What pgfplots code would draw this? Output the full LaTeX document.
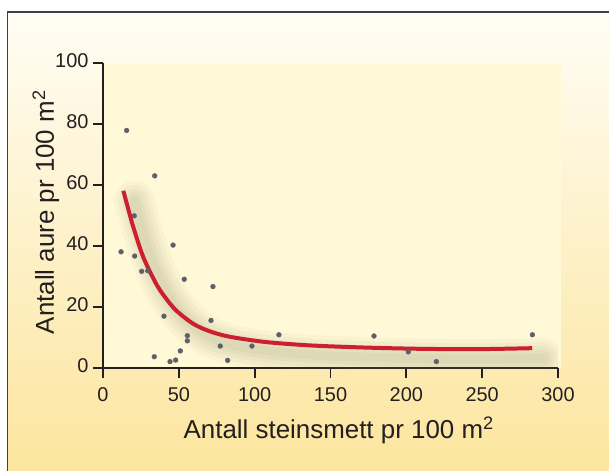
\documentclass[border=0pt]{standalone}
\usepackage{pgfplots}
\pgfplotsset{compat=1.18}
\usepackage{pgfplotstable}
\usepackage{fontspec}
\setmainfont{Liberation Sans}
\definecolor{framec}{RGB}{65,65,65}
\definecolor{bgtop}{RGB}{255,253,244}
\definecolor{bgmid}{RGB}{254,243,202}
\definecolor{bgbot}{RGB}{252,229,158}
\definecolor{innerc}{RGB}{255,249,216}
\definecolor{axisc}{RGB}{35,31,32}
\definecolor{dotc}{RGB}{95,95,105}
\definecolor{curvec}{RGB}{204,32,48}
\definecolor{shadowc}{RGB}{140,138,98}

\pgfplotstableread{
x y
15.6 77.9
34.1 63.0
20.6 49.9
11.9 38.1
20.9 36.7
25.5 31.7
29.5 31.9
46.2 40.3
53.6 29.1
72.5 26.7
40.2 17.0
71.2 15.6
55.6 10.6
55.6 8.9
77.3 7.2
98.2 7.2
116.0 10.9
33.8 3.7
44.2 2.1
47.9 2.6
51.0 5.6
82.2 2.5
178.7 10.5
201.3 5.3
219.8 2.1
283.1 10.9
}\dots

\pgfplotstableread{
x y
13.4 58.1
17.0 51.5
20.0 46.2
26.6 36.3
35.4 27.3
42.0 22.5
48.6 18.7
59.5 14.5
70.0 12.1
83.0 10.3
105.7 8.6
130.0 7.6
150.0 7.1
180.0 6.6
215.0 6.25
250.0 6.2
283.0 6.5
}\curve

\begin{document}
\begin{tikzpicture}
\fill[white] (-103bp,-103bp) rectangle (506bp,368bp);
\shade[top color=bgtop, middle color=bgmid, bottom color=bgbot] (-95.5bp,-103bp) rectangle (506bp,356bp);
\draw[framec, line width=1.5bp] (-95.5bp,-104bp) -- (-95.5bp,356bp) -- (507bp,356bp);
\fill[innerc] (0bp,0bp) rectangle (458bp,305bp);
\begin{axis}[
  at={(0,0)}, anchor=south west,
  scale only axis, width=455bp, height=305bp,
  xmin=0, xmax=300, ymin=0, ymax=100,
  xtick={0,50,...,300}, ytick={0,20,...,100},
  axis lines=left,
  axis line style={-, line width=1.8bp, color=axisc},
  major tick style={line width=1.8bp, color=axisc},
  tick align=outside, major tick length=10bp,
  tick label style={font=\fontsize{20}{24}\selectfont, text=axisc},
  xticklabel style={yshift=-6bp},
  yticklabel style={xshift=-1bp, yshift=2bp},
  /pgf/number format/assume math mode=true,
  label style={font=\fontsize{26}{30}\selectfont, text=axisc},
  xlabel={Antall steinsmett pr 100 m\textsuperscript{2}},
  ylabel={Antall aure pr 100 m\textsuperscript{2}},
  xlabel style={at={(axis description cs:0.518,-0.2295)}, anchor=base},
  ylabel style={at={(axis description cs:-0.1077,0.511)}, anchor=base, rotate=0},
]
\addplot[draw=shadowc, line width=40bp, opacity=0.05, smooth, line cap=round, xshift=11bp, yshift=-10bp, forget plot] table {\curve};
\addplot[draw=shadowc, line width=32bp, opacity=0.06, smooth, line cap=round, xshift=11bp, yshift=-10bp, forget plot] table {\curve};
\addplot[draw=shadowc, line width=24bp, opacity=0.065, smooth, line cap=round, xshift=11bp, yshift=-10bp, forget plot] table {\curve};
\addplot[draw=shadowc, line width=16bp, opacity=0.07, smooth, line cap=round, xshift=11bp, yshift=-10bp, forget plot] table {\curve};
\addplot[draw=shadowc, line width=9bp, opacity=0.07, smooth, line cap=round, xshift=11bp, yshift=-10bp, forget plot] table {\curve};
\addplot[only marks, mark=*, mark size=2.4bp, draw=dotc, fill=dotc] table {\dots};
\addplot[draw=curvec, line width=4bp, smooth] table {\curve};
\end{axis}
\pgfresetboundingbox
\useasboundingbox (-103bp,-103bp) rectangle (506bp,368bp);
\end{tikzpicture}
\end{document}
